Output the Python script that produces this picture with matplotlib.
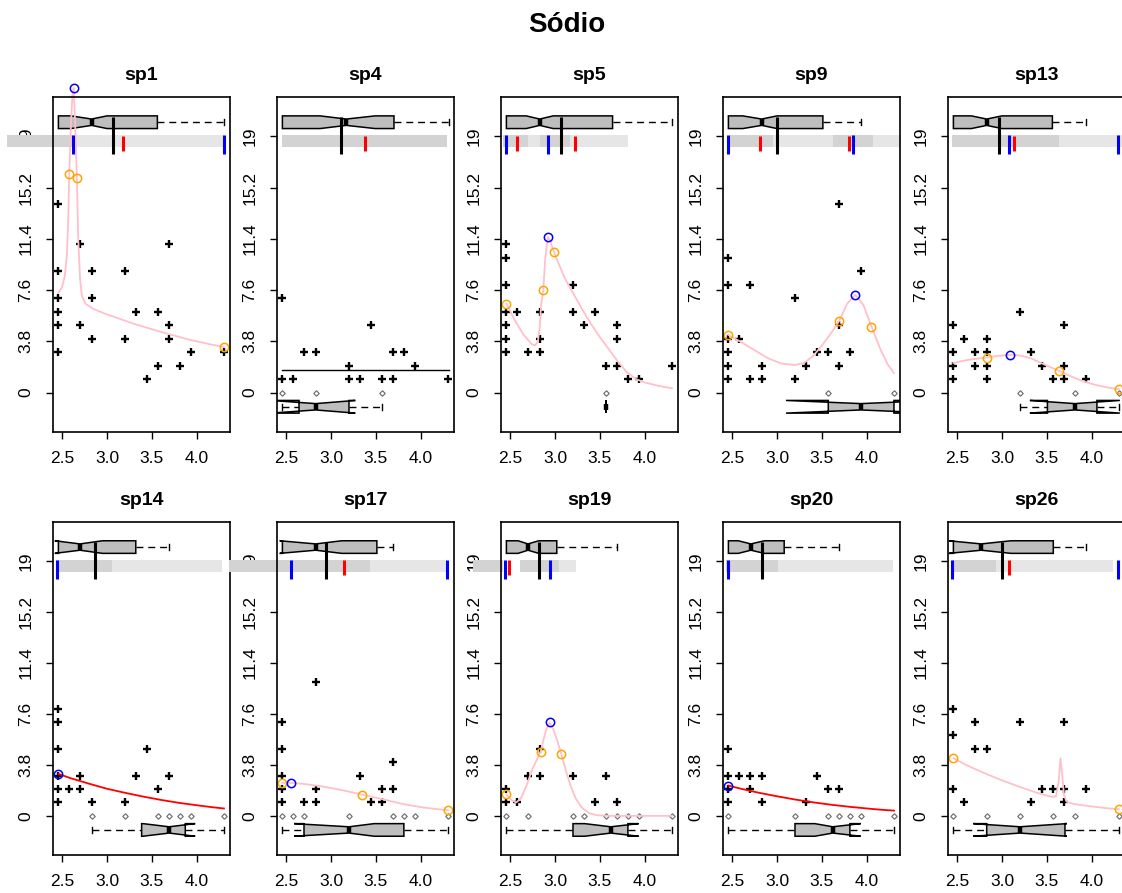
import numpy as np
import matplotlib
matplotlib.use("Agg")
import matplotlib.pyplot as plt
from matplotlib.patches import Polygon, Rectangle

plt.rcParams['font.family'] = ['Liberation Sans', 'DejaVu Sans']

species = ["sp1", "sp4", "sp5", "sp9", "sp13", "sp14", "sp17", "sp19", "sp20", "sp26"]

# positive counts along the gradient (x) for each species
sp1_x = [2.46, 2.46, 2.46, 2.46, 2.46, 2.46, 2.70, 2.70, 2.83, 2.83, 2.83, 3.20, 3.20,
         3.32, 3.44, 3.57, 3.57, 3.69, 3.69, 3.69, 3.81, 3.93, 4.30]
sp1_n = [14, 9, 7, 6, 5, 3, 11, 5, 9, 7, 4, 9, 4, 6, 1, 6, 2, 11, 5, 4, 2, 3, 3]
sp4_x = [2.46, 3.44, 2.70, 2.83, 3.69, 3.81, 3.20, 3.93, 2.46, 2.58, 3.20, 3.32, 3.57, 3.69, 4.30]
sp4_n = [7, 5, 3, 3, 3, 3, 2, 2, 1, 1, 1, 1, 1, 1, 1]
sp5_x = [2.46, 2.46, 2.46, 2.46, 2.46, 2.46, 2.46, 2.58, 2.70, 2.83, 2.83, 2.83, 3.20, 3.20,
         3.32, 3.44, 3.57, 3.69, 3.69, 3.69, 3.81, 3.93, 4.30]
sp5_n = [11, 10, 8, 6, 5, 4, 3, 6, 3, 6, 4, 3, 8, 6, 5, 6, 2, 5, 4, 2, 1, 1, 2]
sp9_x = [3.69, 2.46, 3.93, 2.46, 2.70, 3.20, 3.69, 2.46, 2.58, 2.46, 3.44, 3.57, 3.81,
         2.46, 2.83, 3.32, 3.69, 2.46, 2.70, 2.83, 3.20]
sp9_n = [14, 10, 9, 8, 8, 7, 5, 4, 4, 3, 3, 3, 3, 2, 2, 2, 2, 1, 1, 1, 1]
sp13_x = [3.20, 2.46, 3.69, 2.58, 2.83, 2.46, 2.70, 2.83, 3.32, 2.46, 2.70, 2.83, 3.44,
          3.69, 2.46, 2.83, 3.57, 3.69, 3.93]
sp13_n = [6, 5, 5, 4, 4, 3, 3, 3, 3, 2, 2, 2, 2, 2, 1, 1, 1, 1, 1]
sp14_x = [2.46, 2.46, 2.46, 3.44, 2.46, 2.70, 3.32, 3.69, 2.46, 2.58, 2.70, 3.57, 2.46, 2.83, 3.20]
sp14_n = [8, 7, 5, 5, 3, 3, 3, 3, 2, 2, 2, 2, 1, 1, 1]
sp17_x = [2.83, 2.46, 2.46, 3.69, 2.46, 3.32, 2.46, 2.83, 3.57, 3.69, 2.46, 2.70, 2.83, 3.44, 3.57]
sp17_n = [10, 7, 5, 4, 3, 3, 2, 2, 2, 2, 1, 1, 1, 1, 1]
sp19_x = [2.83, 2.70, 2.83, 3.20, 3.57, 2.46, 2.46, 2.58, 3.44, 3.69]
sp19_n = [5, 3, 3, 3, 3, 2, 1, 1, 1, 1]
sp20_x = [2.46, 2.46, 2.58, 2.70, 2.83, 3.44, 2.46, 2.70, 3.57, 3.69, 2.46, 2.83, 3.32]
sp20_n = [5, 3, 3, 3, 3, 3, 2, 2, 2, 2, 1, 1, 1]
sp26_x = [2.46, 2.70, 3.20, 3.69, 2.46, 2.70, 2.83, 2.46, 3.44, 3.57, 3.69, 3.93, 2.58, 3.32, 3.69]
sp26_n = [8, 7, 7, 7, 6, 5, 5, 2, 2, 2, 2, 2, 1, 1, 1]

# sites with zero counts
zero_x = [[], [2.46, 2.83, 3.57], [3.57], [3.57, 4.30], [3.20, 3.81, 4.30],
          [2.83, 3.20, 3.57, 3.69, 3.81, 3.93, 4.30],
          [2.46, 2.58, 2.70, 3.20, 3.69, 3.81, 3.93, 4.30],
          [2.46, 2.70, 3.20, 3.32, 3.57, 3.69, 3.81, 3.93, 4.30],
          [2.46, 3.20, 3.57, 3.69, 3.81, 3.93, 4.30],
          [2.46, 2.83, 3.20, 3.57, 3.81, 4.30]]

# fitted response curves
sp1_cx = [2.46, 2.50, 2.53, 2.555, 2.57, 2.58, 2.60, 2.615, 2.63, 2.645, 2.665, 2.68, 2.70,
          2.72, 2.76, 2.85, 3.00, 3.30, 3.60, 3.90, 4.10, 4.30]
sp1_cy = [7.4, 7.8, 8.6, 10.2, 13.0, 16.2, 20.0, 22.0, 22.6, 20.2, 15.95, 11.5, 8.5,
          7.2, 6.6, 6.2, 5.8, 5.1, 4.5, 3.95, 3.65, 3.37]
sp4_cx = [2.46, 4.31]
sp4_cy = [1.68, 1.68]
sp5_cx = [2.46, 2.55, 2.65, 2.74, 2.78, 2.81, 2.83, 2.845, 2.87, 2.89, 2.92, 2.95, 2.99,
          3.10, 3.20, 3.30, 3.40, 3.50, 3.60, 3.70, 3.80, 3.90, 4.00, 4.15, 4.30]
sp5_cy = [6.6, 5.4, 4.3, 3.6, 3.5, 3.8, 4.8, 6.5, 7.6, 9.8, 11.55, 11.2, 10.4,
          8.6, 7.4, 6.2, 5.1, 4.1, 3.2, 2.3, 1.5, 1.0, 0.75, 0.5, 0.32]
sp9_cx = [2.46, 2.60, 2.75, 2.90, 3.05, 3.20, 3.30, 3.40, 3.50, 3.60, 3.69, 3.78, 3.87,
          3.96, 4.05, 4.15, 4.23, 4.30]
sp9_cy = [4.28, 3.75, 3.15, 2.55, 2.15, 2.05, 2.2, 2.7, 3.5, 4.4, 5.3, 6.6, 7.25,
          6.5, 4.9, 3.2, 2.1, 1.45]
sp13_cx = [2.46, 2.60, 2.70, 2.83, 2.95, 3.09, 3.20, 3.32, 3.45, 3.55, 3.63, 3.75, 3.90,
           4.05, 4.20, 4.30]
sp13_cy = [2.2, 2.4, 2.5, 2.6, 2.72, 2.8, 2.75, 2.55, 2.15, 1.85, 1.63, 1.25, 0.85,
           0.55, 0.35, 0.25]
sp14_cx = [2.46, 2.60, 2.80, 3.00, 3.20, 3.40, 3.60, 3.80, 4.00, 4.15, 4.30]
sp14_cy = [3.13, 2.8, 2.4, 2.02, 1.72, 1.44, 1.19, 0.97, 0.79, 0.66, 0.55]
sp17_cx = [2.46, 2.56, 2.70, 2.90, 3.10, 3.35, 3.60, 3.80, 4.00, 4.15, 4.30]
sp17_cy = [2.46, 2.46, 2.38, 2.2, 1.95, 1.58, 1.2, 0.88, 0.65, 0.52, 0.42]
sp19_cx = [2.46, 2.52, 2.57, 2.62, 2.68, 2.75, 2.84, 2.90, 2.94, 2.98, 3.03, 3.07, 3.12,
           3.17, 3.23, 3.30, 3.38, 3.46, 3.60, 4.30]
sp19_cy = [1.6, 1.15, 1.0, 1.3, 2.2, 3.5, 4.8, 6.4, 6.97, 6.5, 5.5, 4.63, 3.4,
           2.3, 1.3, 0.6, 0.2, 0.05, 0.0, 0.0]
sp20_cx = [2.46, 2.60, 2.80, 3.00, 3.20, 3.40, 3.60, 3.80, 4.00, 4.15, 4.30]
sp20_cy = [2.26, 2.02, 1.72, 1.46, 1.22, 1.01, 0.83, 0.68, 0.55, 0.46, 0.39]
sp26_cx = [2.46, 2.60, 2.80, 3.00, 3.20, 3.40, 3.55, 3.60, 3.63, 3.65, 3.67, 3.69, 3.72,
           3.80, 4.00, 4.15, 4.30]
sp26_cy = [4.3, 3.8, 3.2, 2.65, 2.15, 1.7, 1.42, 1.45, 2.6, 4.3, 3.0, 1.5, 1.05,
           0.88, 0.7, 0.58, 0.49]
curve_color = ['pink', 'black', 'pink', 'pink', 'pink', 'red', 'pink', 'pink', 'red', 'pink']

# optimum (blue) and inflection (orange) points on the curves
blue_pts = [[(2.63, 22.6)], [], [(2.92, 11.55)], [(3.87, 7.25)], [(3.09, 2.8)],
            [(2.46, 3.13)], [(2.56, 2.46)], [(2.94, 6.97)], [(2.46, 2.26)], []]
orange_pts = [[(2.58, 16.2), (2.665, 15.95), (4.30, 3.37)], [],
              [(2.46, 6.6), (2.87, 7.6), (2.99, 10.4)],
              [(2.46, 4.28), (3.69, 5.3), (4.05, 4.9)],
              [(2.83, 2.6), (3.63, 1.63), (4.30, 0.25)], [],
              [(2.46, 2.46), (3.35, 1.58), (4.30, 0.42)],
              [(2.46, 1.6), (2.84, 4.8), (3.07, 4.63)], [],
              [(2.46, 4.3), (4.30, 0.49)]]

# boxplot stats: whisker low, Q1, notch low, median, notch high, Q3, whisker high
box_present = [
    [2.46, 2.46, 2.60, 2.83, 3.00, 3.56, 4.30],
    [2.46, 2.46, 2.88, 3.17, 3.49, 3.70, 4.31],
    [2.46, 2.46, 2.68, 2.83, 2.98, 3.64, 4.30],
    [2.46, 2.46, 2.62, 2.83, 3.00, 3.51, 3.93],
    [2.46, 2.46, 2.66, 2.83, 3.00, 3.56, 3.93],
    [2.46, 2.46, 2.42, 2.70, 2.95, 3.32, 3.69],
    [2.46, 2.46, 2.43, 2.83, 3.12, 3.51, 3.69],
    [2.46, 2.46, 2.59, 2.70, 2.82, 3.02, 3.69],
    [2.46, 2.46, 2.57, 2.71, 2.86, 3.08, 3.69],
    [2.46, 2.46, 2.41, 2.77, 3.10, 3.57, 3.93],
]
box_absent = [
    None,
    [2.46, 2.645, 2.33, 2.83, 3.27, 3.20, 3.57],
    [3.57, 3.57, 3.57, 3.57, 3.57, 3.57, 3.57],
    [3.57, 3.57, 3.10, 3.935, 4.75, 4.30, 4.30],
    [3.20, 3.505, 3.31, 3.81, 4.31, 4.055, 4.30],
    [2.83, 3.385, 3.40, 3.69, 3.98, 3.87, 4.30],
    [2.46, 2.70, 2.59, 3.20, 3.48, 3.81, 4.30],
    [2.46, 3.20, 3.33, 3.62, 3.93, 3.81, 4.30],
    [2.46, 3.20, 3.42, 3.62, 3.93, 3.81, 4.30],
    [2.46, 2.83, 2.68, 3.20, 3.72, 3.70, 4.30],
]
weighted_mean = [3.07, 3.11, 3.07, 3.00, 2.97, 2.87, 2.94, 2.82, 2.83, 3.00]
blue_ticks = [[2.62, 4.30], [], [2.455, 2.92], [2.46, 3.85], [3.08, 4.29],
              [2.45], [2.56, 4.29], [2.447, 2.94], [2.46], [2.44, 4.29]]
red_ticks = [[3.18], [3.38], [2.58, 3.22], [2.81, 3.80], [3.13],
             [], [3.15], [2.49], [], [3.08]]
band_light = [[(1.89, 4.31)], [], [(2.42, 3.81)], [(2.47, 4.38)], [(2.44, 4.40)],
              [(2.43, 4.28)], [(1.87, 4.29)], [(2.61, 3.23)], [(2.43, 4.29)], [(2.44, 4.23)]]
band_dark = [[(1.89, 2.62)], [(2.46, 4.29)], [(2.42, 2.70), (2.83, 3.17)],
             [(2.47, 2.96), (3.62, 4.07)], [(2.44, 3.63)], [(2.43, 3.06)],
             [(1.87, 3.43)], [(2.09, 2.42), (2.61, 3.05)], [(2.43, 3.01)], [(2.44, 2.93)]]

obs_x = [sp1_x, sp4_x, sp5_x, sp9_x, sp13_x, sp14_x, sp17_x, sp19_x, sp20_x, sp26_x]
obs_n = [sp1_n, sp4_n, sp5_n, sp9_n, sp13_n, sp14_n, sp17_n, sp19_n, sp20_n, sp26_n]
curve_x = [sp1_cx, sp4_cx, sp5_cx, sp9_cx, sp13_cx, sp14_cx, sp17_cx, sp19_cx, sp20_cx, sp26_cx]
curve_y = [sp1_cy, sp4_cy, sp5_cy, sp9_cy, sp13_cy, sp14_cy, sp17_cy, sp19_cy, sp20_cy, sp26_cy]


def notched_box(ax, st, yc, w=0.47, nf=0.5, clip=True):
    wlo, q1, nl, med, nh, q3, whi = st
    dash = dict(color='black', lw=1.0, dashes=(5, 3.5), zorder=3, clip_on=clip)
    if wlo < q1:
        ax.plot([wlo, q1], [yc, yc], **dash)
        ax.plot([wlo, wlo], [yc - w / 2, yc + w / 2], color='black', lw=1.0, zorder=3, clip_on=clip)
    if whi > q3:
        ax.plot([q3, whi], [yc, yc], **dash)
        ax.plot([whi, whi], [yc - w / 2, yc + w / 2], color='black', lw=1.0, zorder=3, clip_on=clip)
    xs = [q1, nl, med, nh, q3, q3, nh, med, nl, q1]
    ys = [yc - w, yc - w, yc - w * nf, yc - w, yc - w, yc + w, yc + w, yc + w * nf, yc + w, yc + w]
    ax.add_patch(Polygon(np.column_stack([xs, ys]), closed=True, fc='#bebebe', ec='black',
                         lw=1.1, zorder=3.2, clip_on=clip))
    ax.plot([med, med], [yc - w * nf, yc + w * nf], color='black', lw=3.2,
            solid_capstyle='butt', zorder=3.4, clip_on=clip)


W, H = 1122, 893
lefts = [53, 277, 501, 723, 948]
rows = [(97, 432), (522, 855)]

fig = plt.figure(figsize=(W / 100, H / 100), dpi=100)
fig.text(0.505, 1 - 25 / H, "Sódio", ha='center', va='center', fontsize=20, fontweight='bold')

for i, name in enumerate(species):
    r, c = divmod(i, 5)
    top, bot = rows[r]
    ax = fig.add_axes([lefts[c] / W, 1 - bot / H, 177 / W, (bot - top) / H])
    ax.set_xlim(2.40, 4.367)
    ax.set_ylim(-2.92, 21.92)
    ax.set_xticks([2.5, 3.0, 3.5, 4.0])
    ax.set_xticklabels(['2.5', '3.0', '3.5', '4.0'])
    ax.set_yticks([0, 3.8, 7.6, 11.4, 15.2, 19])
    ax.set_yticklabels(['0', '3.8', '7.6', '11.4', '15.2', '19'], rotation=90, va='center')
    ax.tick_params(direction='out', length=5, width=1.0, labelsize=12.5, pad=9, colors='black')
    for sp in ax.spines.values():
        sp.set_linewidth(1.2)
        sp.set_zorder(6)
    ax.set_title(name, fontsize=14, fontweight='bold', pad=12)

    # bands along the top
    for a, b in band_light[i]:
        ax.add_patch(Rectangle((a, 18.2), b - a, 0.9, fc='#e6e6e6', ec='none',
                               clip_on=False, zorder=3))
    for a, b in band_dark[i]:
        ax.add_patch(Rectangle((a, 18.2), b - a, 0.9, fc='#d3d3d3', ec='none',
                               clip_on=False, zorder=3.05))

    notched_box(ax, box_present[i], 20.05)
    if box_absent[i] is not None:
        notched_box(ax, box_absent[i], -1.05)

    ax.plot([weighted_mean[i]] * 2, [17.7, 20.4], color='black', lw=2.2,
            solid_capstyle='butt', zorder=4, clip_on=False)
    for x in blue_ticks[i]:
        ax.plot([x, x], [17.7, 19.12], color='#0000ff', lw=2.2, solid_capstyle='butt',
                zorder=4.1, clip_on=False)
    for x in red_ticks[i]:
        ax.plot([x, x], [17.95, 19.05], color='#ff0000', lw=2.2, solid_capstyle='butt',
                zorder=4.1, clip_on=False)

    ax.plot(obs_x[i], obs_n[i], '+', color='black', ms=5.5, mew=1.7, zorder=3)
    ax.plot(zero_x[i], [0] * len(zero_x[i]), 'D', mfc='none', mec='#666666',
            ms=2.8, mew=0.8, zorder=3)

    ax.plot(curve_x[i], curve_y[i], color=curve_color[i], lw=1.3 if i != 1 else 1.0,
            zorder=3.5, clip_on=False)

    for x, y in orange_pts[i]:
        ax.plot(x, y, 'o', mfc='none', mec='orange', ms=6, mew=1.1, zorder=5, clip_on=False)
    for x, y in blue_pts[i]:
        ax.plot(x, y, 'o', mfc='none', mec='#0000ff', ms=6, mew=1.1, zorder=5, clip_on=False)

fig.savefig("out.png", dpi=100)
